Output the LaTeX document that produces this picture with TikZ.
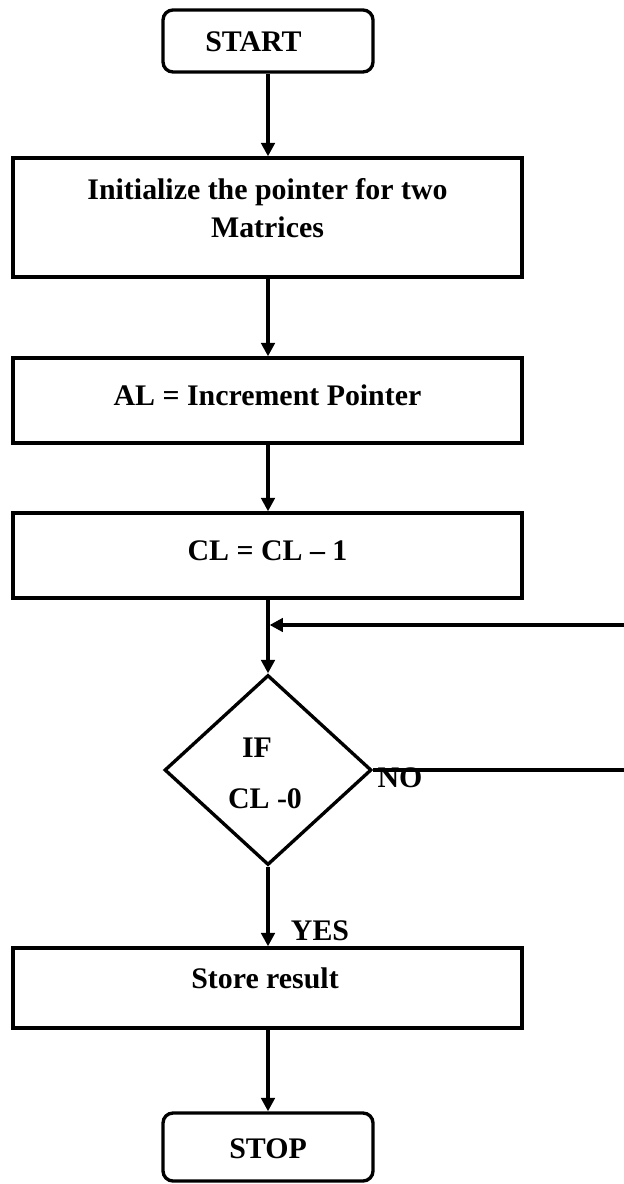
\documentclass[tikz,border=0pt]{standalone}
\usepackage{fontspec}
\setmainfont{Liberation Serif}
\usetikzlibrary{arrows.meta,shapes.geometric}

\begin{document}
\begin{tikzpicture}[
		font=\fontsize{17}{21.6}\selectfont\bfseries,
		box/.style={draw, line width=1.9pt, minimum width=10.18cm, inner sep=0pt},
		term/.style={draw, line width=1.9pt, rounded corners=0.2cm, minimum width=4.2cm, inner sep=0pt},
		dec/.style={draw, diamond, line width=1.9pt, minimum width=4.14cm, minimum height=3.8cm, inner sep=0pt},
		txt/.style={anchor=base, inner sep=0pt},
		flow/.style={line width=1.9pt, -{Triangle[width=7.6pt,length=7.6pt]}},
		wire/.style={line width=1.9pt}
	]
			%%%%% START %%%%%
			
			\useasboundingbox (0, 0) rectangle (12.48, -23.68);
			
			\node[term, minimum height=1.24cm] (start) at (5.36, -0.82) {};
			\node[txt] (starttxt) at (5.07, -1.04) {START};
			
			\node[box, minimum height=2.38cm] (init) at (5.35, -4.35) {};
			\node[txt] (inittxt) at (5.35, -4.00) {Initialize the pointer for two};
			\node[txt] (inittxtb) at (5.35, -4.76) {Matrices};
			
			\node[box, minimum height=1.70cm] (al) at (5.35, -8.01) {};
			\node[txt] (altxt) at (5.35, -8.10) {AL = Increment Pointer};
			
			\node[box, minimum height=1.70cm] (cl) at (5.35, -11.11) {};
			\node[txt] (cltxt) at (5.35, -11.20) {CL = CL -- 1};
			
			\node[dec] (test) at (5.36, -15.40) {};
			\node[txt] (iftxt) at (5.14, -15.14) {IF};
			\node[txt] (condtxt) at (5.30, -16.16) {CL -0};
			
			\node[box, minimum height=1.60cm] (store) at (5.35, -19.76) {};
			\node[txt] (storetxt) at (5.30, -19.76) {Store result};
			
			\node[term, minimum height=1.36cm] (stop) at (5.36, -22.94) {};
			\node[txt] (stoptxt) at (5.36, -23.16) {STOP};
			
			% loop back from the NO side
			\coordinate (back) at (12.48, -12.50);
			\coordinate (join) at (start.south |- back);
			
			\draw[flow] (start.south) -- (start.south |- init.north);
			\draw[flow] (start.south |- init.south) -- (start.south |- al.north);
			\draw[flow] (start.south |- al.south) -- (start.south |- cl.north);
			\draw[flow] (start.south |- cl.south) -- (test.north);
			\draw[flow, shorten >=0.9pt] (back) -- (join);
			\draw[wire] (test.east) -- (test.east -| back);
			\node[txt] (no) at (8.00, -15.74) {NO};
			\draw[flow] (test.south) -- (test.south |- store.north);
			\node[txt] (yes) at (6.40, -18.80) {YES};
			\draw[flow] (start.south |- store.south) -- (stop.north);
			
			%%%%% END %%%%%
\end{tikzpicture}
\end{document}
